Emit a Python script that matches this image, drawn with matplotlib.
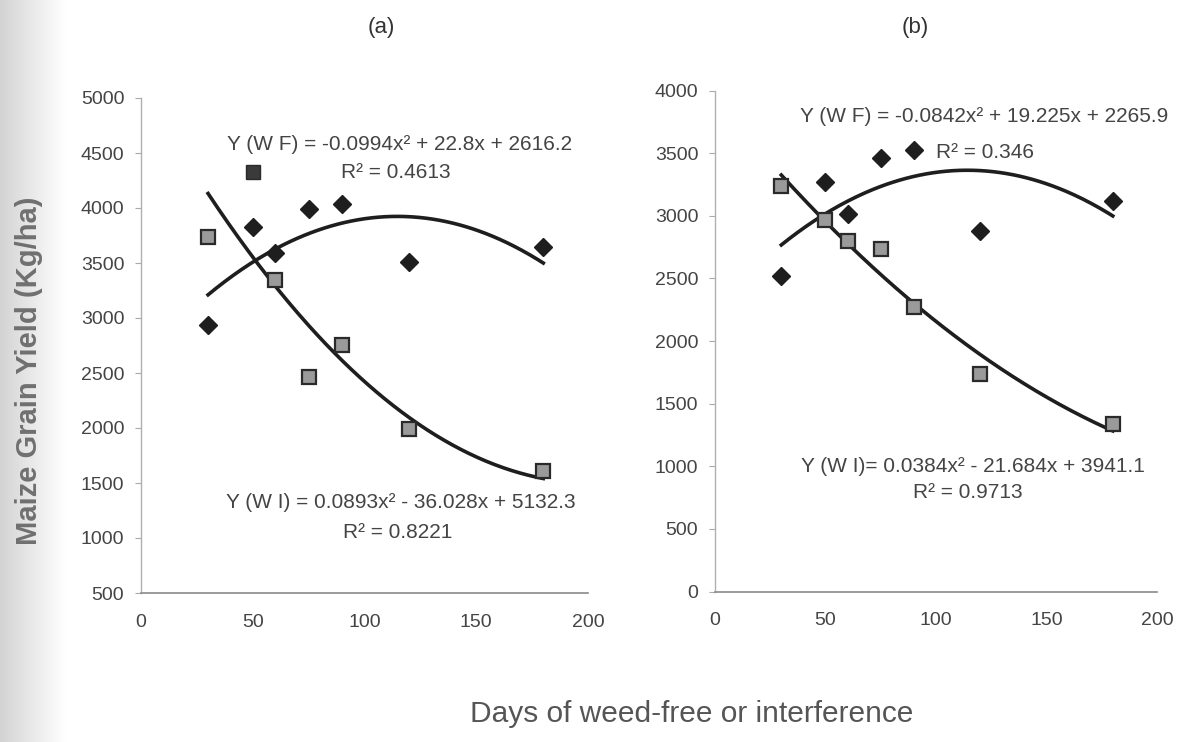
import numpy as np
import matplotlib
matplotlib.use("Agg")
import matplotlib.pyplot as plt

# ---------------- data ----------------
days = [30, 50, 60, 75, 90, 120, 180]

# panel (a)
a_wf = [2940, 3825, 3590, 3990, 4035, 3510, 3645]
a_wi_days = [30, 60, 75, 90, 120, 180]
a_wi = [3740, 3345, 2465, 2755, 1995, 1610]
a_wi_hl_days = [50]
a_wi_hl = [4330]
a_wf_coef = [-0.0994, 22.8, 2616.2]
a_wi_coef = [0.0893, -36.028, 5132.3]

# panel (b)
b_wf = [2515, 3270, 3015, 3465, 3525, 2875, 3120]
b_wi = [3235, 2965, 2795, 2735, 2270, 1735, 1335]
b_wf_coef = [-0.0842, 19.225, 2265.9]
b_wi_coef = [0.0384, -21.684, 3941.1]

a_yticks = [500, 1000, 1500, 2000, 2500, 3000, 3500, 4000, 4500, 5000]
b_yticks = [0, 500, 1000, 1500, 2000, 2500, 3000, 3500, 4000]
xticks = [0, 50, 100, 150, 200]

a_texts = ["Y (W F) = -0.0994x² + 22.8x + 2616.2", "R² = 0.4613",
           "Y (W I) = 0.0893x² - 36.028x + 5132.3", "R² = 0.8221"]
b_texts = ["Y (W F) = -0.0842x² + 19.225x + 2265.9", "R² = 0.346",
           "Y (W I)= 0.0384x² - 21.684x + 3941.1", "R² = 0.9713"]

# ---------------- style ----------------
plt.rcParams['font.family'] = ['Liberation Sans', 'DejaVu Sans']
W, H = 1194, 742
fig = plt.figure(figsize=(W / 100, H / 100), dpi=100)

# scan shadow on the left edge
bg = fig.add_axes([0, 0, 0.055, 1], zorder=-10)
grad = np.linspace(0.76, 1.0, 256) ** 0.7
bg.imshow(np.tile(grad, (2, 1)), cmap='gray', vmin=0, vmax=1,
          aspect='auto', extent=[0, 1, 0, 1], interpolation='bicubic')
bg.axis('off')

txt_col = '#444444'
line_col = '#1e1e1e'


def fpos(px, py):
    return px / W, 1 - py / H


def setup(ax, ylim, yticks):
    ax.set_xlim(0, 200)
    ax.set_ylim(*ylim)
    ax.set_xticks(xticks)
    ax.set_yticks(yticks)
    for s in ['top', 'right']:
        ax.spines[s].set_visible(False)
    ax.spines['left'].set_color('#b0b0b0')
    ax.spines['bottom'].set_color('#8a8a8a')
    ax.spines['left'].set_linewidth(1.0)
    ax.spines['bottom'].set_linewidth(1.2)
    ax.tick_params(axis='y', length=4, width=0.8, color='#aaaaaa',
                   labelsize=14, labelcolor=txt_col, pad=8)
    ax.tick_params(axis='x', length=0, labelsize=14, labelcolor=txt_col, pad=15)
    ax.patch.set_alpha(0)


def draw(ax, wf, wi_days, wi, wf_coef, wi_coef):
    xs = np.linspace(days[0], days[-1], 200)
    ax.plot(xs, np.polyval(wf_coef, xs), color=line_col, lw=2.6, zorder=2)
    ax.plot(xs, np.polyval(wi_coef, xs), color=line_col, lw=2.6, zorder=2)
    ax.plot(days, wf, ls='none', marker='D', ms=9, color='#1e1e1e',
            mec='#1e1e1e', zorder=3)
    ax.plot(wi_days, wi, ls='none', marker='s', ms=9.5, mfc='#9a9a9a',
            mec='#2a2a2a', mew=1.6, zorder=3)


# panel (a)
axa = fig.add_axes([141 / W, (H - 593) / H, 447 / W, 495 / H])
setup(axa, (500, 5000), a_yticks)
draw(axa, a_wf, a_wi_days, a_wi, a_wf_coef, a_wi_coef)
axa.plot(a_wi_hl_days, a_wi_hl, ls='none', marker='s', ms=9.5, mfc='#3a3a3a',
         mec='#2a2a2a', zorder=3)

# panel (b)
axb = fig.add_axes([715 / W, (H - 591.5) / H, 442 / W, 501 / H])
setup(axb, (0, 4000), b_yticks)
draw(axb, b_wf, days, b_wi, b_wf_coef, b_wi_coef)

# equations
eq_fs = 15
for (px, py), t in zip([(400, 145), (396, 173), (401, 503), (398, 532)], a_texts):
    fig.text(*fpos(px, py), t, ha='center', va='center', fontsize=eq_fs, color=txt_col)
for (px, py), t in zip([(984, 117), (985, 152), (973, 467), (968, 493)], b_texts):
    fig.text(*fpos(px, py), t, ha='center', va='center', fontsize=eq_fs, color=txt_col)

# titles and axis labels
fig.text(*fpos(381, 27), "(a)", ha='center', va='center', fontsize=16, color='#333333')
fig.text(*fpos(915, 27), "(b)", ha='center', va='center', fontsize=16, color='#333333')
fig.text(*fpos(29, 371), "Maize Grain Yield (Kg/ha)", rotation=90, ha='center',
         va='center', fontsize=21, fontweight='bold', color='#707070')
fig.text(*fpos(692, 714), "Days of weed-free or interference", ha='center',
         va='center', fontsize=21.5, color='#555555')

fig.savefig("out.png", dpi=100)
